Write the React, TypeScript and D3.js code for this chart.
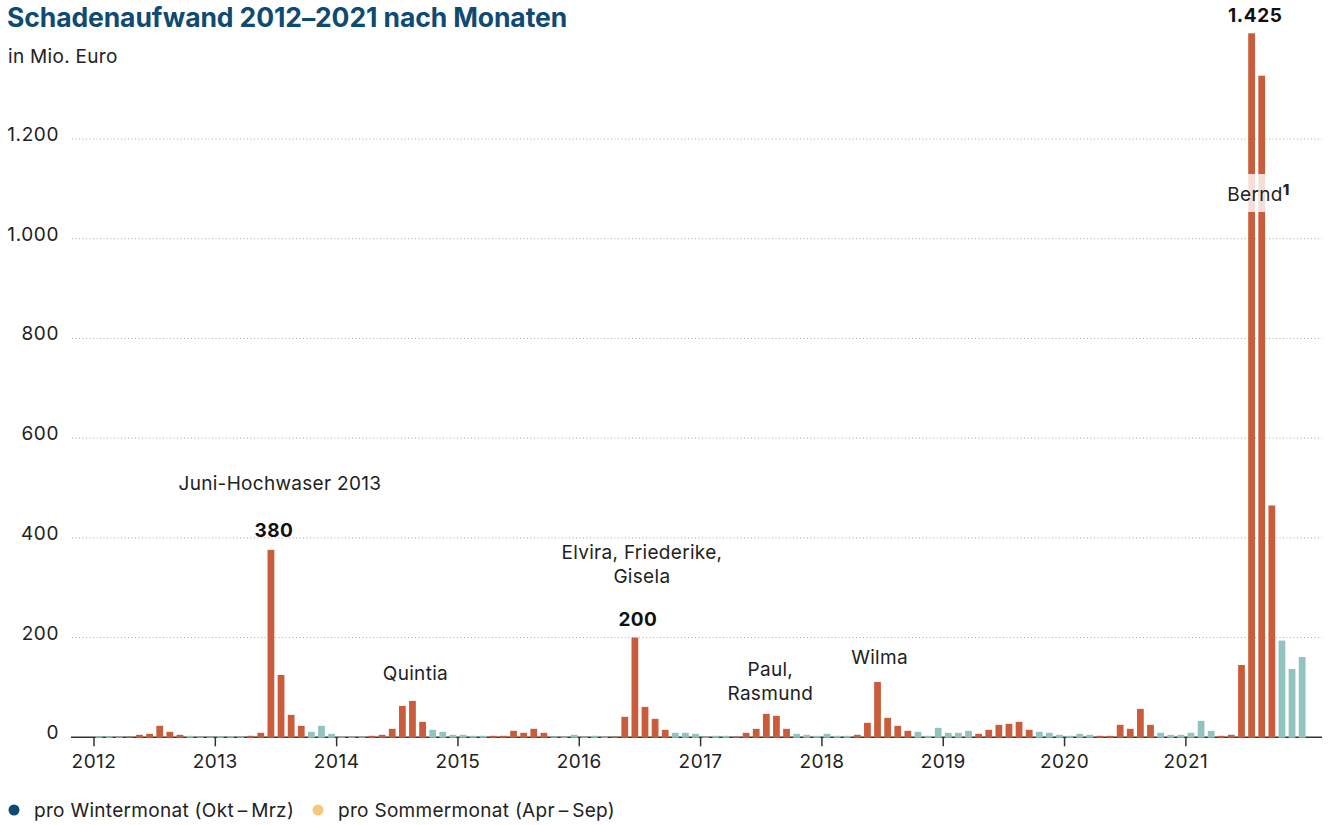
import React from "react";
import * as d3 from "d3";

const years = [2012, 2013, 2014, 2015, 2016, 2017, 2018, 2019, 2020, 2021];
const monthsPerYear = 12;
// monthly claims expenditure, Jan..Dec per year (Mio. Euro)
const values2012 = [2, 2, 1, 1, 5, 7, 23, 11, 5, 3, 1, 1];
const values2013 = [2, 2, 1, 3, 9, 376, 125, 45, 23, 11, 23, 7];
const values2014 = [1, 1, 1, 3, 5, 17, 63, 73, 31, 15, 11, 5];
const values2015 = [5, 3, 3, 3, 3, 13, 9, 17, 9, 1, 1, 5];
const values2016 = [1, 3, 1, 1, 41, 200, 61, 37, 15, 9, 9, 7];
const values2017 = [1, 3, 3, 1, 9, 17, 47, 43, 17, 7, 5, 3];
const values2018 = [7, 3, 3, 5, 29, 111, 39, 23, 13, 11, 3, 19];
const values2019 = [9, 9, 13, 7, 15, 25, 27, 31, 15, 11, 9, 5];
const values2020 = [3, 7, 5, 3, 3, 25, 17, 57, 25, 9, 5, 5];
const values2021 = [9, 33, 13, 3, 5, 145, 1412, 1327, 465, 194, 137, 161];
const allValues = [
  ...values2012, ...values2013, ...values2014, ...values2015, ...values2016,
  ...values2017, ...values2018, ...values2019, ...values2020, ...values2021,
];
const yTicks = [0, 200, 400, 600, 800, 1000, 1200];
const legendItems = ["pro Wintermonat (Okt\u2009\u2013\u2009Mrz)", "pro Sommermonat (Apr\u2009\u2013\u2009Sep)"];
const legendColors = ["#0d4a73", "#f8c77f"];

// annotations: month index, lines of text, bold value label
const eventNames = [
  { month: 17, lines: ["Juni-Hochwaser 2013"], value: "380", textY: 490, dx: 9 },
  { month: 31, lines: ["Quintia"], value: "", textY: 680, dx: 3 },
  { month: 53, lines: ["Elvira, Friederike,", "Gisela"], value: "200", textY: 559, dx: 7 },
  { month: 66, lines: ["Paul,", "Rasmund"], value: "", textY: 676, dx: 4 },
  { month: 77, lines: ["Wilma"], value: "", textY: 664, dx: 2 },
];

const W = 1330;
const H = 825;
const FONT = "Inter, 'Noto Sans', sans-serif";
const ORANGE = "#c95d3b";
const TEAL = "#93c3bf";
const FS = 19;
const LS = 0.3;

export default function App() {
  const x = d3
    .scaleBand<number>()
    .domain(d3.range(allValues.length))
    .range([94, 94 + 120 * 10.11])
    .paddingInner(0.33)
    .paddingOuter(0.165);
  const step = x.step();
  const x0 = 94;
  const y = d3.scaleLinear().domain([0, 1200]).range([737.3, 139]);
  const base = y(0);
  const isSummer = (i: number) => {
    const m = i % 12;
    return m >= 3 && m <= 8;
  };
  const berndIdx = 114;
  const berndX = x(berndIdx)! + x.bandwidth() + step * 0.15;

  return (
    <svg width={W} height={H} style={{ display: "block", position: "absolute", left: 0, top: 0 }} fontFamily={FONT}>
      <rect width={W} height={H} fill="#fff" />
      <text x={7} y={27} fontSize={26.5} fontWeight={700} fill="#0f4a73" letterSpacing={-0.1}>
        Schadenaufwand 2012–2021 nach Monaten
      </text>
      <text x={8} y={63} fontSize={FS} fill="#222" letterSpacing={LS}>in Mio. Euro</text>

      {yTicks.map((t) => (
        <g key={t}>
          {t > 0 && (
            <line x1={72} x2={1322} y1={y(t)} y2={y(t)} stroke="#aaa" strokeWidth={1} strokeDasharray="1,2.5" />
          )}
          <text x={59} y={y(t) + 2} textAnchor="end" fontSize={FS} fill="#222" letterSpacing={0.6}>
            {d3.format(",")(t).replace(/,/g, ".")}
          </text>
        </g>
      ))}

      <line x1={71} x2={1322} y1={base} y2={base} stroke="#333" strokeWidth={1.5} />
      {years.map((yr, k) => {
        const tx = x0 + k * monthsPerYear * step;
        return (
          <g key={yr}>
            <line x1={tx} x2={tx} y1={base} y2={base + 9} stroke="#333" strokeWidth={1.5} />
            <text x={tx} y={768} textAnchor="middle" fontSize={FS} fill="#222" letterSpacing={0.5}>{yr}</text>
          </g>
        );
      })}

      {allValues.map((v, i) => (
        <rect
          key={i}
          x={x(i)}
          y={y(v)}
          width={x.bandwidth()}
          height={Math.max(0, base - y(v) + 0.5)}
          fill={isSummer(i) ? ORANGE : TEAL}
        />
      ))}

      {eventNames.map((e) => {
        const cx = x(e.month)! + x.bandwidth() / 2;
        return (
          <g key={e.month}>
            {e.lines.map((l, j) => (
              <text key={j} x={cx + e.dx} y={e.textY + j * 24} textAnchor="middle" fontSize={FS} fill="#222" letterSpacing={LS}>
                {l}
              </text>
            ))}
            {e.value && (
              <text x={cx + 3} y={e.month === 17 ? 537 : 626} textAnchor="middle" fontSize={19} fontWeight={700} fill="#111" letterSpacing={0.4}>
                {e.value}
              </text>
            )}
          </g>
        );
      })}
      <text x={x(115)! - 3} y={22} textAnchor="middle" fontSize={19} fontWeight={700} fill="#111" letterSpacing={0.6}>1.425</text>

      <rect x={berndX - 32} y={174} width={72} height={38} fill="#fff" opacity={0.8} />
      <text x={berndX + 2} y={201} textAnchor="middle" fontSize={FS} fill="#222" letterSpacing={LS}>
        Bernd<tspan fontWeight={800} fontSize={15} dy={-6}>1</tspan>
      </text>

      {legendItems.map((l, k) => (
        <g key={l} transform={`translate(${k === 0 ? 14 : 318},810)`}>
          <circle cx={0} cy={0} r={5.5} fill={legendColors[k]} />
          <text x={20} y={6.5} fontSize={FS} fill="#222" letterSpacing={LS}>{l}</text>
        </g>
      ))}
    </svg>
  );
}
